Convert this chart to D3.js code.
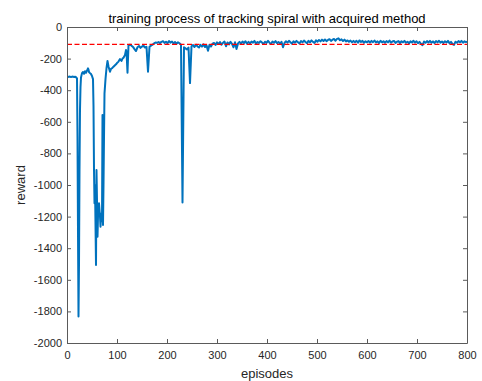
<!DOCTYPE html>
<html>
<head>
<meta charset="utf-8">
<script src="https://cdn.jsdelivr.net/npm/d3@7"></script>
<style>
  html, body { margin: 0; padding: 0; background: #fff; }
  svg { display: block; font-family: "Liberation Sans", Arial, Helvetica, sans-serif; }
</style>
</head>
<body>
<svg id="chart" width="482" height="381"></svg>
<script>
// ---------- data ----------
const titleText = "training process of tracking spiral with acquired method";
const xLabel = "episodes";
const yLabel = "reward";
const xTicks = [0, 100, 200, 300, 400, 500, 600, 700, 800];
const xTickLabels = ["0", "100", "200", "300", "400", "500", "600", "700", "800"];
const yTicks = [0, -200, -400, -600, -800, -1000, -1200, -1400, -1600, -1800, -2000];
const yTickLabels = ["0", "-200", "-400", "-600", "-800", "-1000", "-1200", "-1400", "-1600", "-1800", "-2000"];
const referenceReward = -110;

// early training phase (irregularly sampled episodes)
const earlyEpisodes = [0, 2, 4, 6, 8, 10, 12, 14, 16, 18, 20, 21, 22, 23, 24, 25, 26, 27, 28, 30,
  32, 34, 36, 38, 40, 42, 43, 44, 46, 48, 50, 52, 53, 54, 55, 56, 57, 58, 59, 60,
  61, 62, 64, 66, 67, 68, 69, 70, 71, 72, 73, 74, 75, 77, 79, 81, 83, 86, 88, 90,
  93, 96, 98, 100, 103, 106, 109, 111, 113, 116, 118, 119, 121, 123];
const earlyReward = [-315, -316, -314, -315, -316, -315, -314, -316, -315, -318, -325, -700, -1300, -1833, -1500, -900, -520, -380, -320, -292,
  -285, -296, -280, -290, -276, -262, -270, -285, -292, -298, -310, -330, -500, -900, -1116, -1000, -1250, -1506, -905, -1100,
  -1327, -1200, -1116, -1200, -1264, -1210, -1180, -1230, -557, -1253, -1000, -700, -420, -330, -261, -215, -250, -283, -265, -261,
  -251, -242, -236, -228, -219, -203, -215, -200, -194, -177, -146, -156, -290, -114];

// later phase: one value every 3 episodes starting at episode 126
const lateStartEpisode = 126;
const lateEpisodeStep = 3;
const lateReward = [
  -112, -118, -126, -140, -152, -128, -120, -132, -124, -118,
  -130, -126, -283, -125, -118, -112, -104, -98, -100, -95,
  -102, -94, -90, -101, -93, -103, -89, -99, -92, -104,
  -95, -106, -97, -103, -112, -1110, -128, -135, -142, -130,
  -355, -122, -114, -127, -112, -123, -130, -113, -124, -109,
  -127, -115, -150, -113, -124, -105, -101, -114, -97, -108,
  -95, -112, -100, -92, -122, -98, -110, -94, -107, -128,
  -97, -139, -104, -94, -105, -92, -102, -90, -106, -94,
  -104, -92, -99, -88, -106, -95, -101, -90, -98, -108,
  -93, -101, -88, -99, -107, -92, -100, -89, -103, -95,
  -105, -94, -128, -101, -90, -99, -87, -97, -106, -91,
  -99, -88, -96, -104, -89, -97, -86, -95, -103, -88,
  -97, -85, -94, -101, -84, -93, -82, -91, -80, -89,
  -79, -90, -82, -77, -88, -80, -76, -87, -75, -72,
  -84, -78, -89, -80, -91, -85, -94, -86, -97, -88,
  -96, -87, -99, -85, -95, -88, -100, -90, -97, -89,
  -99, -88, -96, -86, -98, -91, -101, -87, -97, -90,
  -100, -89, -97, -86, -99, -92, -88, -101, -93, -89,
  -102, -90, -97, -88, -100, -93, -104, -91, -98, -87,
  -99, -90, -103, -94, -106, -115, -92, -100, -89, -98,
  -88, -100, -91, -102, -89, -97, -87, -99, -92, -101,
  -90, -98, -88, -103, -94, -108, -113, -93, -100, -89,
  -97, -88, -99, -91, -96, -92
];

// ---------- build series ----------
const series = earlyEpisodes.map((e, i) => ({ ep: e, r: earlyReward[i] }))
  .concat(lateReward.map((r, i) => ({ ep: lateStartEpisode + i * lateEpisodeStep, r: r })));

// ---------- layout ----------
const svg = d3.select("#chart");
const plotLeft = 67, plotRight = 467, plotTop = 27, plotBottom = 343;

const x = d3.scaleLinear().domain([0, 800]).range([plotLeft, plotRight]);
const y = d3.scaleLinear().domain([-2000, 0]).range([plotBottom, plotTop]);

const axisColor = "#5a5a5a";
const textColor = "#262626";

svg.append("rect").attr("x", 0).attr("y", 0).attr("width", 482).attr("height", 381).attr("fill", "#fff");

svg.append("defs").append("clipPath").attr("id", "clip")
  .append("rect").attr("x", plotLeft).attr("y", plotTop)
  .attr("width", plotRight - plotLeft).attr("height", plotBottom - plotTop);

// data line
const line = d3.line().x(d => x(d.ep)).y(d => y(d.r));
svg.append("path")
  .datum(series)
  .attr("clip-path", "url(#clip)")
  .attr("fill", "none")
  .attr("stroke", "#0072BD")
  .attr("stroke-width", 2)
  .attr("stroke-linejoin", "round")
  .attr("d", line);

// reference line
svg.append("line")
  .attr("x1", x(0)).attr("x2", x(800))
  .attr("y1", y(referenceReward)).attr("y2", y(referenceReward))
  .attr("stroke", "#ff0000").attr("stroke-width", 1.2)
  .attr("stroke-dasharray", "5,2.5");

// axes (MATLAB-like: ticks inside, box on)
const tickLen = 4;
const xAxisBottom = d3.axisBottom(x).tickValues(xTicks).tickSizeInner(-tickLen).tickSizeOuter(0)
  .tickPadding(8).tickFormat((d, i) => xTickLabels[i]);
const xAxisTop = d3.axisTop(x).tickValues(xTicks).tickSizeInner(-tickLen).tickSizeOuter(0).tickFormat("");
const yAxisLeft = d3.axisLeft(y).tickValues(yTicks).tickSizeInner(-tickLen).tickSizeOuter(0)
  .tickPadding(5).tickFormat((d, i) => yTickLabels[i]);
const yAxisRight = d3.axisRight(y).tickValues(yTicks).tickSizeInner(-tickLen).tickSizeOuter(0).tickFormat("");

function styleAxis(g) {
  g.select(".domain").attr("stroke", axisColor).attr("stroke-width", 1);
  g.selectAll(".tick line").attr("stroke", axisColor).attr("stroke-width", 1);
  g.selectAll(".tick text").attr("fill", textColor).style("font-size", "11px")
    .style("font-family", '"Liberation Sans", Arial, Helvetica, sans-serif');
}

svg.append("g").attr("transform", `translate(0,${plotBottom})`).call(xAxisBottom).call(styleAxis);
svg.append("g").attr("transform", `translate(0,${plotTop})`).call(xAxisTop).call(styleAxis);
svg.append("g").attr("transform", `translate(${plotLeft},0)`).call(yAxisLeft).call(styleAxis);
svg.append("g").attr("transform", `translate(${plotRight},0)`).call(yAxisRight).call(styleAxis);

// title
svg.append("text")
  .attr("x", (plotLeft + plotRight) / 2).attr("y", 22.5)
  .attr("text-anchor", "middle")
  .attr("fill", "#000")
  .style("font-size", "13px")
  .text(titleText);

// x label
svg.append("text")
  .attr("x", (plotLeft + plotRight) / 2).attr("y", 378)
  .attr("text-anchor", "middle")
  .attr("fill", textColor)
  .style("font-size", "13px")
  .text(xLabel);

// y label
svg.append("text")
  .attr("transform", `translate(25,${(plotTop + plotBottom) / 2}) rotate(-90)`)
  .attr("text-anchor", "middle")
  .attr("fill", textColor)
  .style("font-size", "13px")
  .text(yLabel);
</script>
</body>
</html>
